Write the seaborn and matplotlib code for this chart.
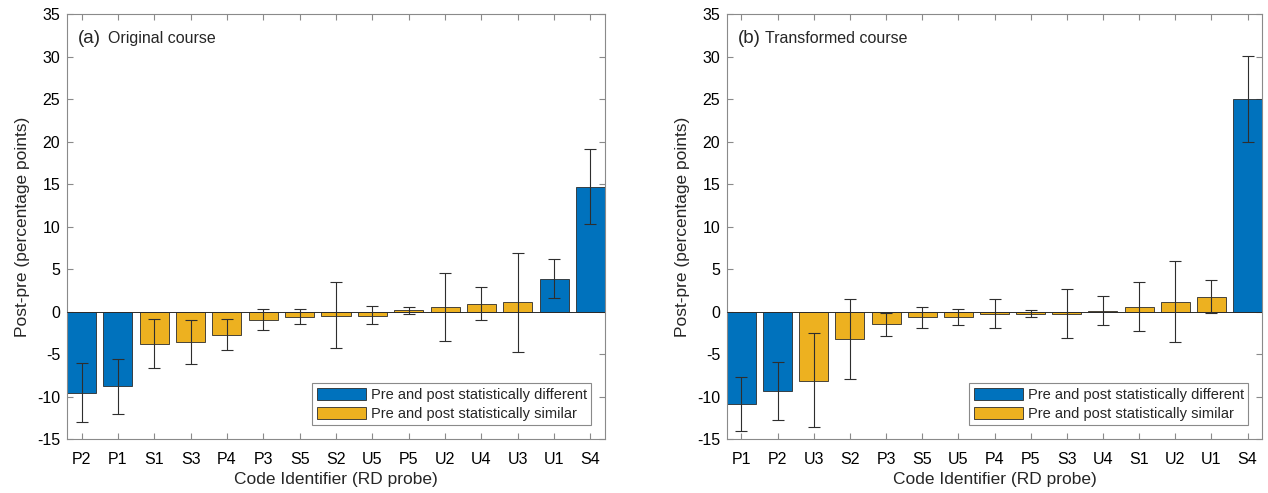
import numpy as np
import pandas as pd
import matplotlib
matplotlib.use("Agg")
import matplotlib.pyplot as plt
import seaborn as sns

# ---------------- data ----------------
codes_a = ["P2", "P1", "S1", "S3", "P4", "P3", "S5", "S2", "U5", "P5", "U2", "U4", "U3", "U1", "S4"]
mean_a = [-9.5, -8.7, -3.8, -3.6, -2.7, -0.95, -0.6, -0.45, -0.45, 0.2, 0.55, 0.9, 1.1, 3.9, 14.7]
low_a = [-13.0, -12.0, -6.6, -6.1, -4.5, -2.15, -1.4, -4.3, -1.4, -0.25, -3.45, -1.0, -4.7, 1.6, 10.3]
high_a = [-6.0, -5.5, -0.9, -1.0, -0.8, 0.3, 0.3, 3.55, 0.65, 0.55, 4.6, 2.9, 6.9, 6.25, 19.1]
sig_a = ["d", "d", "s", "s", "s", "s", "s", "s", "s", "s", "s", "s", "s", "d", "d"]

codes_b = ["P1", "P2", "U3", "S2", "P3", "S5", "U5", "P4", "P5", "S3", "U4", "S1", "U2", "U1", "S4"]
mean_b = [-10.9, -9.3, -8.1, -3.2, -1.45, -0.6, -0.6, -0.2, -0.2, -0.2, 0.15, 0.55, 1.2, 1.8, 25.0]
low_b = [-14.0, -12.7, -13.6, -7.95, -2.8, -1.85, -1.5, -1.9, -0.6, -3.05, -1.5, -2.3, -3.6, -0.1, 20.0]
high_b = [-7.7, -5.85, -2.5, 1.5, -0.1, 0.55, 0.3, 1.5, 0.2, 2.65, 1.85, 3.5, 6.0, 3.75, 30.1]
sig_b = ["d", "d", "s", "s", "s", "s", "s", "s", "s", "s", "s", "s", "s", "s", "d"]

status_labels = {"d": "Pre and post statistically different",
                 "s": "Pre and post statistically similar"}
hue_order = [status_labels["d"], status_labels["s"]]
palette = {status_labels["d"]: "#0072BD", status_labels["s"]: "#EDB120"}

panel_tags = ["(a)", "(b)"]
panel_titles = ["Original course", "Transformed course"]
yticks = list(range(-15, 36, 5))

# ---------------- style ----------------
sns.set_style("white")
plt.rcParams["font.family"] = ["Liberation Sans", "DejaVu Sans"]

fig = plt.figure(figsize=(12.68, 4.93), dpi=100)
ax_a = fig.add_axes([67 / 1268, 1 - 439.3 / 493, 538 / 1268, 425 / 493])
ax_b = fig.add_axes([727 / 1268, 1 - 439.3 / 493, 535 / 1268, 425 / 493])

spine_col = "#8a8a8a"
panels = [
    (ax_a, codes_a, mean_a, low_a, high_a, sig_a, 0.077),
    (ax_b, codes_b, mean_b, low_b, high_b, sig_b, 0.071),
]

for i, (ax, codes, mean, low, high, sig, tx) in enumerate(panels):
    df = pd.DataFrame({"code": codes, "value": mean,
                       "status": [status_labels[s] for s in sig]})
    sns.barplot(data=df, x="code", y="value", hue="status", order=codes,
                hue_order=hue_order, palette=palette, dodge=False, width=0.8,
                edgecolor="#2b2b2b", linewidth=0.6, saturation=1, ax=ax,
                errorbar=None)
    pos = np.arange(len(codes))
    m = np.array(mean)
    yerr = np.vstack([m - np.array(low), np.array(high) - m])
    ax.errorbar(pos, m, yerr=yerr, fmt="none", ecolor="#2e2e2e",
                elinewidth=0.8, capsize=4.5, capthick=0.8, zorder=5)
    ax.axhline(0, color="#2b2b2b", lw=0.7, zorder=4)

    ax.set_xlim(-0.4, len(codes) - 0.6)
    ax.set_ylim(-15, 35)
    ax.set_yticks(yticks)
    ax.set_yticklabels([str(t) for t in yticks])
    ax.tick_params(axis="both", which="both", direction="in", length=4,
                   width=0.8, color=spine_col, labelsize=11.5, top=True,
                   right=True, left=True, bottom=True, labelcolor="black")
    ax.tick_params(axis="x", pad=9)
    ax.tick_params(axis="y", pad=5)
    for sp in ax.spines.values():
        sp.set_visible(True)
        sp.set_color(spine_col)
        sp.set_linewidth(0.8)

    ax.set_xlabel("Code Identifier (RD probe)", fontsize=12.5, labelpad=4)
    ax.set_ylabel("Post-pre (percentage points)", fontsize=12.5, labelpad=5)

    ax.text(0.02, 0.932, panel_tags[i], transform=ax.transAxes,
            fontsize=13.5, va="baseline", ha="left")
    ax.text(tx, 0.932, panel_titles[i], transform=ax.transAxes,
            fontsize=11.5, va="baseline", ha="left")

    handles, labels = ax.get_legend_handles_labels()
    if ax.get_legend() is not None:
        ax.get_legend().remove()
    leg = ax.legend(handles, labels, loc="lower right", fontsize=10.5,
                    frameon=True, fancybox=False, framealpha=1,
                    edgecolor=spine_col, handlelength=3.4, handleheight=0.9,
                    borderaxespad=0.95, labelspacing=0.37, handletextpad=0.3,
                    borderpad=0.3)
    leg.get_frame().set_linewidth(0.8)

fig.savefig("out.png", dpi=100)
